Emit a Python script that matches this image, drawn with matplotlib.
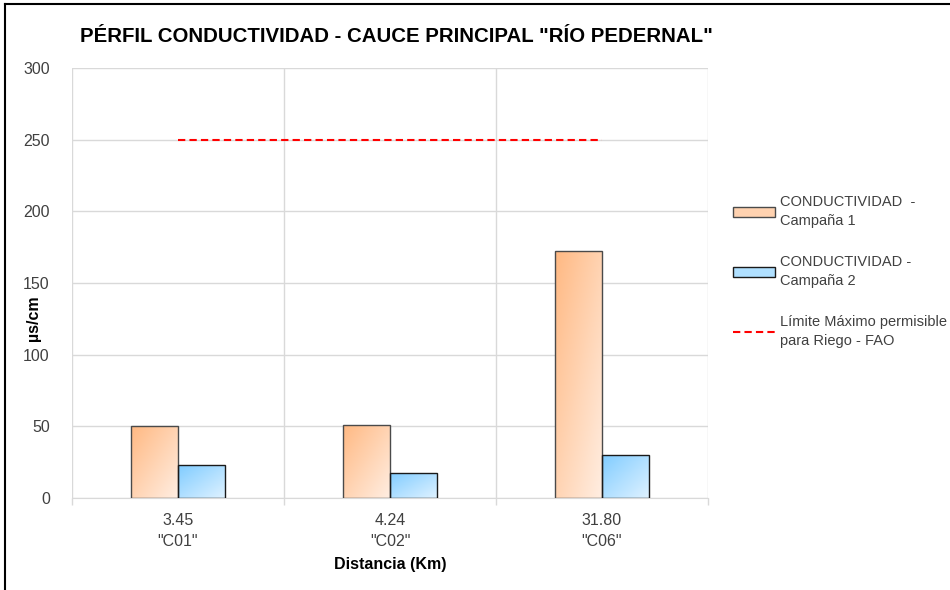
import numpy as np
import matplotlib
matplotlib.use("Agg")
import matplotlib.pyplot as plt
from matplotlib.lines import Line2D
from matplotlib.colors import LinearSegmentedColormap
from matplotlib.patches import Patch

# ---- data ----
distances = ["3.45", "4.24", "31.80"]
stations = ['"C01"', '"C02"', '"C06"']
campana1 = [50, 51, 172]
campana2 = [23, 17.5, 30]
limite_fao = [250, 250, 250]
labels = ["CONDUCTIVIDAD  -\nCampaña 1", "CONDUCTIVIDAD -\nCampaña 2",
          "Límite Máximo permisible\npara Riego - FAO"]
title = 'PÉRFIL CONDUCTIVIDAD - CAUCE PRINCIPAL "RÍO PEDERNAL"'

plt.rcParams['font.family'] = ['Liberation Sans', 'DejaVu Sans']

fig = plt.figure(figsize=(9.5, 5.9), dpi=100)
ax = fig.add_axes([72/950, 1-498/590, (708-72)/950, (498-68)/590])

x = np.arange(len(distances))
w = 0.222
orange_cmap = LinearSegmentedColormap.from_list("o", ["#FFB983", "#FFEEE2"])
blue_cmap = LinearSegmentedColormap.from_list("b", ["#80CCFF", "#DFF2FF"])

def grad_bars(xpos, vals, cmap, edge):
    bars = ax.bar(xpos, vals, width=w, facecolor='none', edgecolor=edge,
                  linewidth=1.0, zorder=3)
    n = 64
    u = np.linspace(0, 1, n)[None, :]
    v = np.linspace(1, 0, n)[:, None]
    t = (u + (1 - v)) / 2  # top-left dark -> bottom-right light
    for b in bars:
        x0, y0 = b.get_x(), b.get_y()
        im = ax.imshow(t, cmap=cmap, extent=(x0, x0 + b.get_width(), y0, y0 + b.get_height()),
                       origin='upper', aspect='auto', zorder=2, interpolation='bilinear',
                       vmin=0, vmax=1)
        im.set_clip_path(b)
    return bars

grad_bars(x - w/2, campana1, orange_cmap, '#4a4a4a')
grad_bars(x + w/2, campana2, blue_cmap, '#1a1a1a')
ax.plot(x, limite_fao, color='#FF0000', lw=1.5, ls=(0, (3.5, 2)), zorder=4)

ax.set_xlim(-0.5, 2.5)
ax.set_ylim(0, 300)
ax.set_yticks(np.arange(0, 301, 50))
ax.set_xticks(x)
ax.set_xticklabels([f"{d}\n{s}" for d, s in zip(distances, stations)], fontsize=11.5,
                   color='#404040', linespacing=1.45)
ax.set_xticks(np.arange(-0.5, 2.6, 1), minor=True)
ax.tick_params(axis='x', which='major', length=0, pad=11)
ax.tick_params(axis='x', which='minor', length=5, color='#D9D9D9', width=1)
ax.tick_params(axis='y', length=0, pad=16, labelsize=11.5, labelcolor='#404040')
ax.grid(axis='y', color='#D9D9D9', lw=1, zorder=0)
ax.grid(axis='x', which='minor', color='#D9D9D9', lw=1, zorder=0)
for s in ['top', 'right', 'left']:
    ax.spines[s].set_visible(False)
ax.spines['bottom'].set_color('#D9D9D9')
ax.set_axisbelow(True)

ax.set_xlabel("Distancia (Km)", fontsize=11.5, fontweight='bold', labelpad=6)
fig.text(33/950, 1-318/590, "µs/cm", rotation=90, ha='center', va='center',
         fontsize=11.5, fontweight='bold')
fig.text(80/950, 1-37/590, title, ha='left', va='center', fontsize=14.7,
         fontweight='bold')

handles = [Patch(facecolor='#FFD2B0', edgecolor='#4a4a4a', lw=1),
           Patch(facecolor='#B0E0FF', edgecolor='#1a1a1a', lw=1),
           Line2D([0], [0], color='#FF0000', lw=1.5, ls=(0, (3.5, 2)))]
leg = fig.legend(handles, labels, loc='upper left', bbox_to_anchor=(733/950, 1-195/590),
                 frameon=False, fontsize=10.5, handlelength=2.9, handletextpad=0.35,
                 labelspacing=1.85, borderaxespad=0, borderpad=0)
for t in leg.get_texts():
    t.set_color('#404040')
    t.set_linespacing(1.45)

fig.add_artist(Line2D([5/950, 5/950], [0, 1-4/590], color='black', lw=1.5,
                      transform=fig.transFigure))
fig.add_artist(Line2D([5/950, 1], [1-4/590, 1-4/590], color='black', lw=1.5,
                      transform=fig.transFigure))

fig.savefig("out.png", dpi=100)
